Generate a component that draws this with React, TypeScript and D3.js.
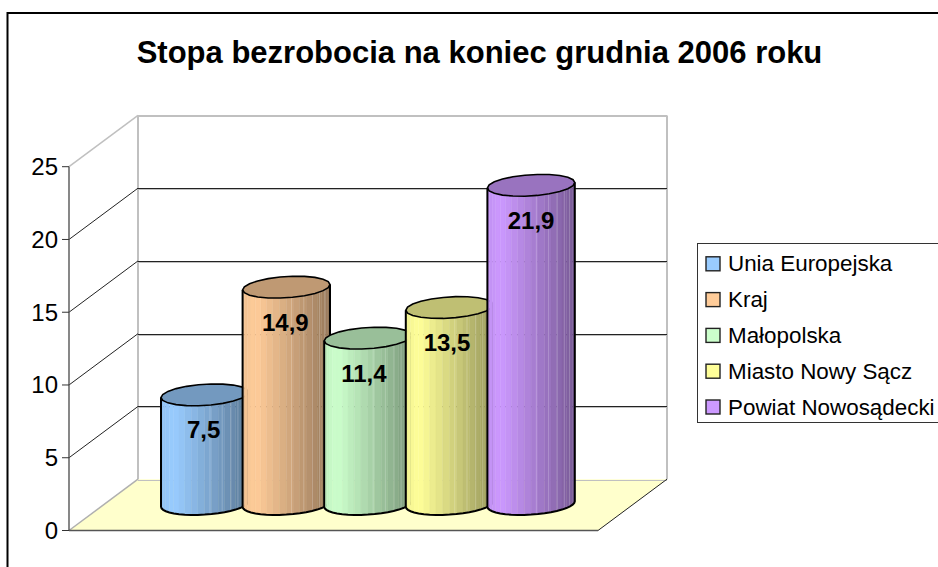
import React from "react";
import * as d3 from "d3";

const titleText = "Stopa bezrobocia na koniec grudnia 2006 roku";
const categories = ["Unia Europejska", "Kraj", "Małopolska", "Miasto Nowy Sącz", "Powiat Nowosądecki"];
const values = [7.5, 14.9, 11.4, 13.5, 21.9];
const valueLabels = ["7,5", "14,9", "11,4", "13,5", "21,9"];
const colors = ["#99CCFF", "#FFCC99", "#CCFFCC", "#FFFF99", "#CC99FF"];
const ticks = [0, 5, 10, 15, 20, 25];
const stripeFractions = [0.56, 0.7, 0.8, 0.88, 0.94];
const labelNudge = [-1, -1, -4, -2.5, 0];

const font = "'Liberation Sans', Arial, sans-serif";
const axisX = 69, axisBottom = 530.5, axisTop = 166.7;
const depthX = 69, depthY = 51.3;
const frontRight = 598;
const backRight = frontRight + depthX;

const y = d3.scaleLinear().domain([0, 25]).range([axisBottom, axisTop]);
const x = d3.scaleBand<string>().domain(categories).range([161, 161 + 81.6 * 5]).paddingInner(0).paddingOuter(0);
const baseOffset = -26.5;
const rx = 43.7, ry = 10.6, tilt = 2.7;
const rim = (cx: number, cy: number, t: number): [number, number] =>
  [cx + rx * Math.cos(t), cy - tilt * Math.cos(t) + ry * Math.sin(t)];
const line = d3.line();
const shade = (c: string, f: number) => {
  const k = d3.rgb(c);
  return d3.rgb(k.r * f, k.g * f, k.b * f).formatHex();
};
const STRIPS = 20;
const crisp = (v: number) => Math.round(v) + 0.5;

function Cylinder({ i }: { i: number }) {
  const cx = x(categories[i])! + rx;
  const cyB = y(0) + baseOffset;
  const cyT = y(values[i]) + baseOffset;
  const color = colors[i];
  const angles = d3.range(STRIPS + 1).map((k) => Math.PI - (k / STRIPS) * Math.PI);
  const frontBottom = angles.map((t) => rim(cx, cyB, t));
  const frontTop = angles.map((t) => rim(cx, cyT, t));
  const ring = d3.range(22).map((k) => rim(cx, cyT, (k / 22) * 2 * Math.PI));
  const outline = [frontTop[0], ...frontBottom, frontTop[STRIPS]] as [number, number][];
  return (
    <g>
      {angles.slice(0, -1).map((_, k) => {
        const u = (frontBottom[k][0] - (cx - rx)) / (2 * rx);
        const f = u < 0.12 ? 0.95 + (u / 0.12) * 0.05 : 1 - 0.42 * ((u - 0.12) / 0.88);
        const pts = [frontTop[k], frontTop[k + 1], frontBottom[k + 1], frontBottom[k]] as [number, number][];
        return <path key={k} d={line(pts)! + "Z"} fill={shade(color, f)} stroke={shade(color, f)} strokeWidth={0.4} />;
      })}
      {stripeFractions.map((s) => {
        const sx = cx - rx + s * 2 * rx;
        const a = Math.acos((sx - cx) / rx);
        const p0 = rim(cx, cyT, a), p1 = rim(cx, cyB, a);
        return <line key={s} x1={p0[0]} x2={p1[0]} y1={p0[1]} y2={p1[1]} stroke="#fff" strokeOpacity={0.22} strokeWidth={1} />;
      })}
      <path d={line(ring)! + "Z"} fill={shade(color, 0.75)} stroke="#000" strokeWidth={1.6} />
      <path d={line(outline)!} fill="none" stroke="#000" strokeWidth={2} />
    </g>
  );
}

export default function App() {
  const gridTicks = ticks.slice(1);
  return (
    <svg width={938} height={567} style={{ position: "fixed", left: 0, top: 0, background: "#fff" }} fontFamily={font}>
      <rect x={7.5} y={13} width={1000} height={700} fill="#fff" stroke="#000" strokeWidth={2} />
      <text x={479.5} y={62.5} textAnchor="middle" fontSize={31} fontWeight="bold" fill="#000">{titleText}</text>

      <polygon
        points={[[axisX, y(0)], [frontRight, y(0)], [backRight, y(0) - depthY], [axisX + depthX, y(0) - depthY]].join(" ")}
        fill="#FFFFCC"
      />
      <line x1={axisX + depthX} x2={axisX + depthX} y1={y(25) - depthY} y2={y(0) - depthY} stroke="#C0C0C0" strokeWidth={2} />
      <line x1={backRight} x2={backRight} y1={y(25) - depthY} y2={y(0) - depthY} stroke="#C0C0C0" strokeWidth={2} />
      <line x1={axisX} x2={axisX + depthX} y1={y(25)} y2={y(25) - depthY} stroke="#C0C0C0" strokeWidth={1.5} />
      <line x1={axisX} x2={axisX + depthX} y1={y(0)} y2={y(0) - depthY} stroke="#B0B0B0" strokeWidth={1.5} />
      {ticks.map((t) => (
        <line key={t} x1={axisX + depthX} x2={backRight} y1={crisp(y(t) - depthY) + 1} y2={crisp(y(t) - depthY) + 1} stroke="#C0C0C0" strokeWidth={1} />
      ))}
      <line x1={axisX + depthX} x2={backRight} y1={crisp(y(25) - depthY)} y2={crisp(y(25) - depthY)} stroke="#C0C0C0" strokeWidth={1} />
      {gridTicks.slice(0, -1).map((t) => (
        <g key={t} stroke="#222" strokeWidth={1}>
          <line x1={axisX + depthX} x2={backRight} y1={crisp(y(t) - depthY)} y2={crisp(y(t) - depthY)} />
          <line x1={axisX} x2={axisX + depthX} y1={y(t)} y2={y(t) - depthY} />
        </g>
      ))}
      <line x1={frontRight} x2={backRight} y1={y(0)} y2={y(0) - depthY} stroke="#222" strokeWidth={1} />
      <line x1={axisX} x2={frontRight} y1={y(0)} y2={y(0)} stroke="#555" strokeWidth={1.4} />
      <line x1={axisX} x2={axisX} y1={y(25)} y2={y(0)} stroke="#555" strokeWidth={1.4} />
      {ticks.map((t) => (
        <g key={t}>
          <line x1={axisX - 7} x2={axisX} y1={y(t)} y2={y(t)} stroke="#333" strokeWidth={1} />
          <text x={58} y={y(t) + 8.5} textAnchor="end" fontSize={24} fill="#000">{t}</text>
        </g>
      ))}

      {categories.map((_, i) => <Cylinder key={i} i={i} />)}
      {categories.map((c, i) => (
        <text key={c} x={x(c)! + rx + labelNudge[i]} y={y(values[i]) + baseOffset + 43.5} textAnchor="middle" fontSize={24} fontWeight="bold" fill="#000">
          {valueLabels[i]}
        </text>
      ))}

      <rect x={697.5} y={243.5} width={300} height={179} fill="#fff" stroke="#333" strokeWidth={1} />
      {categories.map((c, i) => {
        const ry0 = 263.8 + i * 35.8;
        return (
          <g key={c}>
            <rect x={706} y={ry0 - 7} width={14} height={14} fill={colors[i]} stroke="#222" strokeWidth={1.4} />
            <text x={728} y={ry0 + 7.5} fontSize={22.4} fill="#000">{c}</text>
          </g>
        );
      })}
    </svg>
  );
}
